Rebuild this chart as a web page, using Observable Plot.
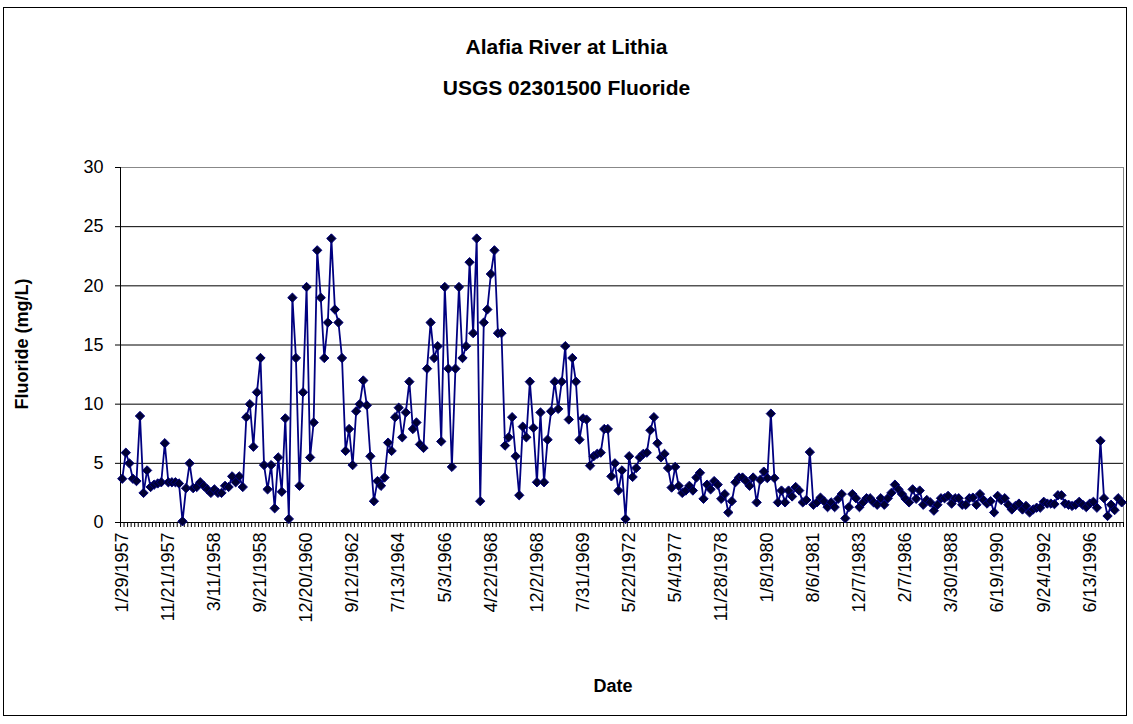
<!DOCTYPE html>
<html>
<head>
<meta charset="utf-8">
<script src="https://cdn.jsdelivr.net/npm/d3@7"></script>
<script src="https://cdn.jsdelivr.net/npm/@observablehq/plot@0.6"></script>
<style>
  html, body { margin: 0; padding: 0; background: #fff; }
  #wrap { position: relative; width: 1133px; height: 724px; overflow: hidden; font-family: "Liberation Sans", Arial, sans-serif; }
  #frame { position: absolute; left: 3px; top: 7px; width: 1124px; height: 709px; border: 1px solid #000; box-sizing: border-box; }
  #chart { position: absolute; left: 0; top: 0; }
  .title { position: absolute; left: 0; width: 1133px; text-align: center; font-weight: bold; font-size: 21px; color: #000; line-height: 1; }
  #ytitle { position: absolute; left: 22px; top: 344px; transform: translate(-50%, -50%) rotate(-90deg); font-weight: bold; font-size: 18px; white-space: nowrap; }
  #xtitle { position: absolute; left: 613px; top: 686px; transform: translate(-50%, -50%); font-weight: bold; font-size: 18px; white-space: nowrap; }
</style>
</head>
<body>
<div id="wrap">
  <div id="frame"></div>
  <div id="chart"></div>
  <div class="title" style="top:36px">Alafia River at Lithia</div>
  <div class="title" style="top:77px">USGS 02301500 Fluoride</div>
  <div id="ytitle">Fluoride (mg/L)</div>
  <div id="xtitle">Date</div>
</div>
<script>
// Category labels shown on the axis (every 13th sample)
const tickLabels = ["1/29/1957","11/21/1957","3/11/1958","9/21/1958","12/20/1960","9/12/1962","7/13/1964","5/3/1966","4/22/1968","12/2/1968","7/31/1969","5/22/1972","5/4/1977","11/28/1978","1/8/1980","8/6/1981","12/7/1983","2/7/1986","3/30/1988","6/19/1990","9/24/1992","6/13/1996"];
const labelEvery = 13;

// Fluoride (mg/L), one value per sample, in order
const fluoride = [
  3.7, 5.9, 5.0, 3.7, 3.5, 9.0, 2.5, 4.4, 3.0, 3.2,
  3.3, 3.4, 6.7, 3.4, 3.4, 3.4, 3.3, 0.1, 2.9, 5.0,
  2.9, 3.0, 3.4, 3.1, 2.8, 2.5, 2.8, 2.5, 2.5, 3.1,
  3.0, 3.9, 3.4, 3.9, 3.0,
  8.9, 10.0, 6.4, 11.0, 13.9, 4.85, 2.8, 4.85, 1.2, 5.5,
  2.6, 8.8, 0.3, 19.0, 13.9, 3.1, 11.0, 19.9, 5.5, 8.45,
  23.0, 19.0, 13.9, 16.9, 24.0, 18.0, 16.9, 13.9, 6.05, 7.9,
  4.85, 9.4, 10.0, 12.0, 9.9, 5.6, 1.8, 3.5,
  3.1, 3.8, 6.75, 6.05, 8.9, 9.7, 7.2, 9.3, 11.9, 7.9,
  8.45, 6.6, 6.3, 13.0, 16.9, 13.9, 14.9, 6.85, 19.9, 13.0,
  4.7, 13.0, 19.9, 13.9, 14.9, 22.0, 16.0, 24.0, 1.8, 16.9,
  18.0, 21.0, 23.0, 16.0,
  16.0, 6.5, 7.2, 8.9, 5.6, 2.3, 8.1, 7.2, 11.9, 8.0,
  3.4, 9.3, 3.4, 7.0, 9.4, 11.9, 9.6, 11.9, 14.9, 8.7,
  13.9, 11.9, 7.0, 8.8, 8.7, 4.8, 5.6, 5.8, 5.9, 7.9,
  7.9, 3.9, 5.0, 2.7, 4.4, 0.3, 5.6,
  3.85, 4.6, 5.5, 5.8, 5.9, 7.8, 8.9, 6.7, 5.5, 5.8,
  4.6, 2.95, 4.7, 3.1, 2.5, 2.7, 3.1, 2.7, 3.8, 4.2,
  2.0, 3.2, 2.8, 3.5, 3.2, 2.0, 2.4, 0.85, 1.8, 3.4,
  3.8, 3.8,
  3.5, 3.1, 3.8, 1.7, 3.6, 4.3, 3.75, 9.2, 3.75, 1.7,
  2.7, 1.7, 2.7, 2.2, 3.0, 2.7, 1.7, 1.9, 5.95, 1.5,
  1.7, 2.1, 1.8, 1.3, 1.7, 1.3, 2.0, 2.4, 0.35, 1.3,
  2.4, 2.05, 1.3, 1.7, 2.05,
  2.05, 1.7, 1.5, 2.05, 1.5, 2.05, 2.5, 3.2, 2.8, 2.4,
  2.0, 1.7, 2.8, 2.0, 2.7, 1.5, 1.9, 1.7, 1.0, 1.5,
  2.05, 2.05, 2.25, 1.6, 2.05, 2.05, 1.5, 1.5, 2.05, 2.1,
  1.5, 2.4, 1.9, 1.6, 1.8, 0.85, 2.25,
  1.9, 2.05, 1.5, 1.1, 1.4, 1.6, 1.1, 1.4, 0.85, 1.1,
  1.25, 1.25, 1.75, 1.6, 1.6, 1.55, 2.3, 2.3, 1.6, 1.5,
  1.4, 1.5, 1.75, 1.5, 1.3, 1.6, 1.75, 1.25, 6.9, 2.05,
  0.55, 1.5, 1.05, 2.05, 1.7
];
const yTicks = [0, 5, 10, 15, 20, 25, 30];

const n = fluoride.length;
const data = fluoride.map((v, i) => ({i, v}));
const boundaries = d3.range(n + 1).map(k => k - 0.5);
const labelIdx = tickLabels.map((_, k) => k * labelEvery);

const chart = Plot.plot({
  width: 1133,
  height: 724,
  marginLeft: 120,
  marginRight: 10,
  marginTop: 167,
  marginBottom: 202,
  x: {type: "linear", domain: [-0.5, n - 0.5]},
  y: {type: "linear", domain: [0, 30]},
  style: {fontFamily: "'Liberation Sans', Arial, sans-serif", background: "transparent", color: "#000"},
  marks: [
    Plot.ruleY(yTicks.filter(t => t > 0 && t < 30), {stroke: "#000", strokeWidth: 1}),
    Plot.ruleY([30], {stroke: "#888", strokeWidth: 1}),
    Plot.ruleX([n - 0.5], {stroke: "#888", strokeWidth: 1}),
    Plot.axisY({ticks: yTicks, tickSize: 5, tickPadding: 12, fontSize: 18, label: null, stroke: "#000"}),
    Plot.axisX({ticks: boundaries, tickSize: 5, tickFormat: () => "", label: null, stroke: "#000"}),
    Plot.axisX({ticks: labelIdx, tickSize: 0, tickPadding: 10, tickRotate: -90, fontSize: 18,
                tickFormat: i => tickLabels[Math.round(i / labelEvery)], label: null}),
    Plot.ruleX([-0.5], {stroke: "#000", strokeWidth: 1}),
    Plot.ruleY([0], {stroke: "#000", strokeWidth: 1}),
    Plot.line(data, {x: "i", y: "v", stroke: "#000080", strokeWidth: 1.8}),
    Plot.dot(data, {x: "i", y: "v", symbol: "diamond2", r: 4.2, fill: "#000033", stroke: "#000080", strokeWidth: 1})
  ]
});
document.getElementById("chart").appendChild(chart);
</script>
</body>
</html>
